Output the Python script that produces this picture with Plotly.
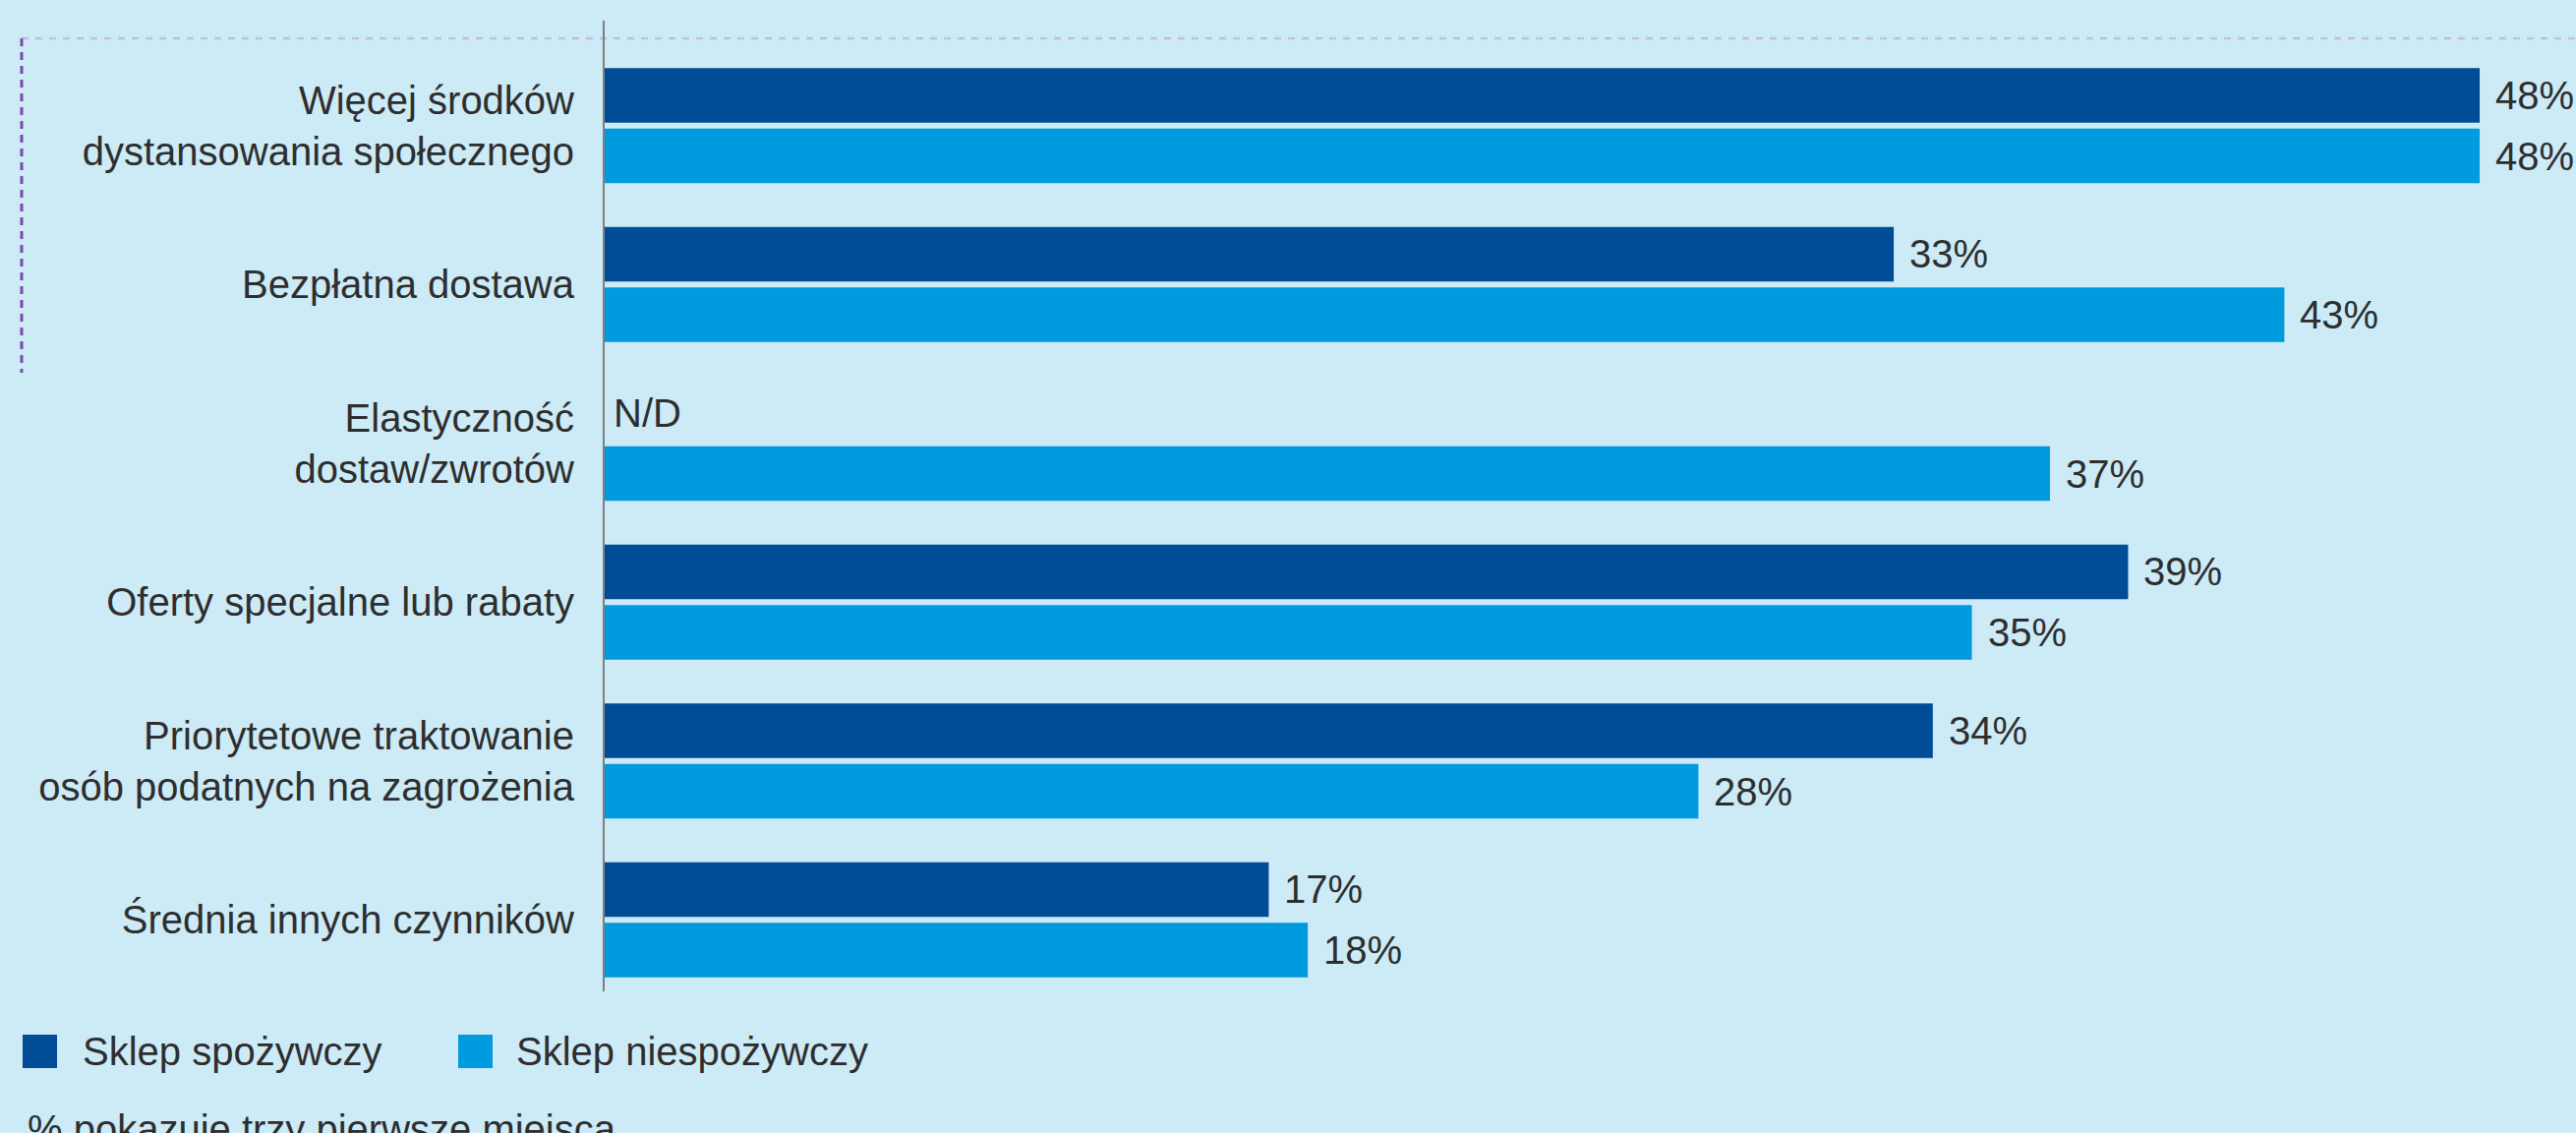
import plotly.graph_objects as go

categories = [
    "Więcej środków<br>dystansowania społecznego",
    "Bezpłatna dostawa",
    "Elastyczność<br>dostaw/zwrotów",
    "Oferty specjalne lub rabaty",
    "Priorytetowe traktowanie<br>osób podatnych na zagrożenia",
    "Średnia innych czynników",
]
grocery = [48, 33, None, 39, 34, 17]
non_grocery = [48, 43, 37, 35, 28, 18]
series_names = ["Sklep spożywczy", "Sklep niespożywczy"]
missing_label = "N/D"
footnote = "% pokazuje trzy pierwsze miejsca"

W, H = 2620, 1152
ML, MR, MT, MB = 615, 0, 47, 136
PW, PH = W - ML - MR, H - MT - MB
PX_PER_PCT = 39.73

BG = "#CCEBF7"
DARK = "#004C97"
LIGHT = "#009ADE"
TXT = "#2E2E2E"
FONT = "Liberation Sans, Arial, sans-serif"
FS = 40


def px2x(px):
    return (px - ML) / PW


def py2y(py):
    return (H - MB - py) / PH


fig = go.Figure()
for name, vals, col in [(series_names[0], grocery, DARK), (series_names[1], non_grocery, LIGHT)]:
    fig.add_trace(go.Bar(
        y=categories, x=vals, name=name, orientation="h",
        marker=dict(color=col, line=dict(width=0)),
        showlegend=False, hoverinfo="skip",
    ))

annotations = []
half_pitch = 30.8
for vals, shift in [(grocery, half_pitch), (non_grocery, -half_pitch)]:
    for cat, v in zip(categories, vals):
        if v is None:
            annotations.append(dict(x=0, y=cat, xref="x", yref="y", text=missing_label,
                                    xanchor="left", yanchor="middle", xshift=7, yshift=shift,
                                    showarrow=False, font=dict(size=FS, color=TXT, family=FONT)))
        else:
            annotations.append(dict(x=v, y=cat, xref="x", yref="y", text=f"{v}%",
                                    xanchor="left", yanchor="middle", xshift=14, yshift=shift,
                                    showarrow=False, font=dict(size=FS, color=TXT, family=FONT)))

# custom legend
shapes = []
legend_items = [(series_names[0], DARK, 23, 82), (series_names[1], LIGHT, 466, 523)]
for name, col, sx, tx in legend_items:
    shapes.append(dict(type="rect", xref="paper", yref="paper",
                       x0=px2x(sx), x1=px2x(sx + 35), y0=py2y(1086), y1=py2y(1052),
                       fillcolor=col, line=dict(width=0)))
    annotations.append(dict(x=px2x(tx), y=py2y(1069), xref="paper", yref="paper", text=name,
                            xanchor="left", yanchor="middle", showarrow=False,
                            font=dict(size=FS, color=TXT, family=FONT)))

annotations.append(dict(x=px2x(26), y=py2y(1124), xref="paper", yref="paper", text=footnote,
                        xanchor="left", yanchor="top", showarrow=False,
                        font=dict(size=FS, color=TXT, family=FONT)))

# decorative dashed frame lines
shapes.append(dict(type="line", xref="paper", yref="paper",
                   x0=px2x(22), x1=px2x(2620), y0=py2y(39), y1=py2y(39),
                   line=dict(color="#C2BDE3", width=2.5, dash="7px,7px")))
shapes.append(dict(type="line", xref="paper", yref="paper",
                   x0=px2x(22), x1=px2x(22), y0=py2y(39), y1=py2y(379),
                   line=dict(color="#7A4BA9", width=3, dash="8px,6px")))
# axis line
shapes.append(dict(type="line", xref="paper", yref="paper",
                   x0=px2x(614), x1=px2x(614), y0=py2y(21), y1=py2y(1008),
                   line=dict(color="#7F7F7F", width=2)))

fig.update_layout(
    width=W, height=H,
    margin=dict(l=ML, r=MR, t=MT, b=MB, pad=0),
    paper_bgcolor=BG, plot_bgcolor=BG,
    barmode="group", bargap=0.239, bargroupgap=0.1,
    font=dict(family=FONT, size=FS, color=TXT),
    xaxis=dict(range=[0, PW / PX_PER_PCT], visible=False, fixedrange=True),
    yaxis=dict(categoryorder="array", categoryarray=categories, autorange="reversed",
               showgrid=False, zeroline=False, showline=False, ticks="",
               ticklabelstandoff=30, tickfont=dict(size=FS, color=TXT, family=FONT),
               fixedrange=True),
    annotations=annotations, shapes=shapes,
    hovermode=False, showlegend=False,
)

fig.write_html("out.html", config={"displayModeBar": False})
